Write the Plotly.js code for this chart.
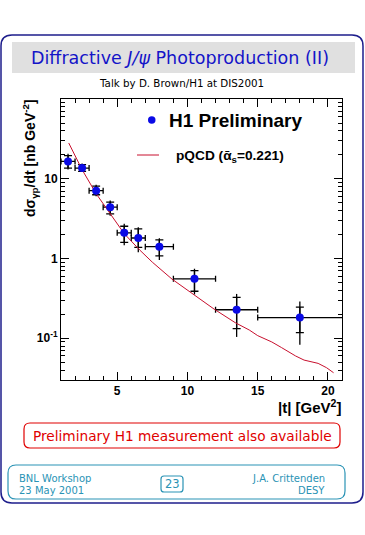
<!DOCTYPE html>
<html>
<head>
<meta charset="utf-8">
<script src="https://cdn.plot.ly/plotly-3.0.1.min.js"></script>
<style>html,body{margin:0;padding:0;background:#fff;}#chart{width:365px;height:535px;}</style>
</head>
<body>
<div id="chart"></div>
<script>
// ---- data ----
var tCenters   = [1.5, 2.5, 3.5, 4.5, 5.5, 6.5, 8, 10.5, 13.5, 18];
var tBinMinus  = [0.5, 0.5, 0.5, 0.5, 0.5, 0.5, 1, 1.5, 1.5, 3];
var tBinPlus   = [0.5, 0.5, 0.5, 0.5, 0.5, 0.5, 1, 1.5, 1.5, 3.5];
var dsigdt     = [16.5, 13.6, 7.1, 4.4, 2.1, 1.81, 1.41, 0.557, 0.228, 0.182];
var statPlus   = [3.0, 1.4, 1.0, 0.69, 0.44, 0.55, 0.30, 0.15, 0.098, 0.064];
var statMinus  = [2.9, 1.2, 0.8, 0.77, 0.51, 0.43, 0.33, 0.168, 0.096, 0.064];
var totPlus    = [4.1, 1.9, 1.3, 0.93, 0.62, 0.66, 0.38, 0.188, 0.132, 0.108];
var totMinus   = [3.4, 1.4, 1.05, 0.96, 0.63, 0.61, 0.45, 0.203, 0.124, 0.099];

var tCurve     = [1.55, 2.5, 3.5, 4.5, 5.5, 6.6, 7.5, 8.9, 10.5, 11.9, 13.4, 14.4, 15.0, 16.0, 16.7, 17.7, 18.3, 19.3, 19.9, 20.4];
var pqcdCurve  = [28.1, 13.0, 6.5, 3.65, 2.05, 1.28, 0.9, 0.552, 0.348, 0.232, 0.157, 0.127, 0.108, 0.090, 0.0764, 0.060, 0.0533, 0.0485, 0.0428, 0.037];

var xTickVals  = [5, 10, 15, 20];
var xTickText  = ['5', '10', '15', '20'];
var yTickVals  = [0.1, 1, 10];
var yTickText  = ['10<sup>-1</sup>', '1', '10'];

// ---- geometry helpers (pixel -> paper) ----
var L = 61, R = 342, T = 99, B = 380, W = 365, H = 535;
function px(x) { return (x - L) / (R - L); }
function py(y) { return (B - y) / (B - T); }
function rrect(x0, y0, x1, y1, r) {
  function p(x, y) { return px(x).toFixed(5) + ',' + py(y).toFixed(5); }
  return 'M' + p(x0 + r, y0) + ' L' + p(x1 - r, y0) + ' Q' + p(x1, y0) + ' ' + p(x1, y0 + r) +
         ' L' + p(x1, y1 - r) + ' Q' + p(x1, y1) + ' ' + p(x1 - r, y1) +
         ' L' + p(x0 + r, y1) + ' Q' + p(x0, y1) + ' ' + p(x0, y1 - r) +
         ' L' + p(x0, y0 + r) + ' Q' + p(x0, y0) + ' ' + p(x0 + r, y0) + ' Z';
}

var yMinor = [];
for (var e = -2; e <= 1; e++) {
  for (var m = 2; m <= 9; m++) {
    var v = m * Math.pow(10, e);
    if (v >= 0.03 && v <= 100) yMinor.push(v);
  }
}

var traces = [
  { // total errors
    x: tCenters, y: dsigdt, type: 'scatter', mode: 'markers',
    marker: { size: 1, color: 'rgba(0,0,0,0)' },
    error_y: { type: 'data', symmetric: false, array: totPlus, arrayminus: totMinus, color: '#000', thickness: 1.3, width: 0 },
    error_x: { type: 'data', symmetric: false, array: tBinPlus, arrayminus: tBinMinus, color: '#000', thickness: 1.3, width: 3 },
    showlegend: false, hoverinfo: 'skip'
  },
  { // stat errors (ticks)
    x: tCenters, y: dsigdt, type: 'scatter', mode: 'markers',
    marker: { size: 1, color: 'rgba(0,0,0,0)' },
    error_y: { type: 'data', symmetric: false, array: statPlus, arrayminus: statMinus, color: '#000', thickness: 1.3, width: 4 },
    showlegend: false, hoverinfo: 'skip'
  },
  { // pQCD
    x: tCurve, y: pqcdCurve, type: 'scatter', mode: 'lines',
    line: { color: '#c8102e', width: 1 },
    showlegend: false
  },
  { // H1 points
    x: tCenters, y: dsigdt, type: 'scatter', mode: 'markers',
    marker: { size: 8, color: '#0a0ae6' },
    showlegend: false
  }
];

var blue = '#1414c8', teal = '#2a93b5', red = '#e00000';
var shapes = [
  { type: 'path', xref: 'paper', yref: 'paper', path: rrect(12, 42, 355, 73, 0), fillcolor: '#e0e0e0', line: { width: 0 }, layer: 'below' },
  { type: 'path', xref: 'paper', yref: 'paper', path: rrect(1, 35, 363, 503, 11), line: { color: '#1e1e8c', width: 1.5 } },
  { type: 'path', xref: 'paper', yref: 'paper', path: rrect(24, 423, 340, 448, 6), line: { color: red, width: 1.2 } },
  { type: 'path', xref: 'paper', yref: 'paper', path: rrect(8, 465, 345, 499, 8), line: { color: teal, width: 1.2 } },
  { type: 'path', xref: 'paper', yref: 'paper', path: rrect(161, 476, 183, 492, 3), line: { color: teal, width: 1.2 } },
  // legend symbols
  { type: 'circle', xref: 'paper', yref: 'paper', x0: px(148), x1: px(155.5), y0: py(116.2), y1: py(123.7), fillcolor: '#0a0ae6', line: { width: 0 } },
  { type: 'line', xref: 'paper', yref: 'paper', x0: px(137), x1: px(159), y0: py(155), y1: py(155), line: { color: '#c8102e', width: 1 } }
];

function ann(text, x, y, opts) {
  var a = { text: text, x: px(x), y: py(y), xref: 'paper', yref: 'paper', showarrow: false,
            xanchor: 'center', yanchor: 'middle', font: { family: 'Liberation Sans, Arial, sans-serif', size: 12, color: '#000' } };
  for (var k in opts) a[k] = opts[k];
  return a;
}

var annotations = [
  ann('Diffractive <i>J/ψ</i> Photoproduction (II)', 180, 58, { font: { family: 'DejaVu Sans, sans-serif', size: 17.5, color: blue } }),
  ann('Talk by D. Brown/H1 at DIS2001', 181, 83, { font: { family: 'DejaVu Sans, sans-serif', size: 10.3, color: '#000' } }),
  ann('H1 Preliminary', 167, 120, { xanchor: 'left', font: { family: 'Liberation Sans, Arial, sans-serif', size: 19, color: '#000', weight: 'bold' } }),
  ann('pQCD (ᾱ<sub>s</sub>=0.221)', 174, 156, { xanchor: 'left', font: { family: 'Liberation Sans, Arial, sans-serif', size: 13.7, color: '#000', weight: 'bold' } }),
  ann('dσ<sub>γp</sub>/dt [nb GeV<sup>-2</sup>]', 30, 158, { textangle: -90, font: { family: 'Liberation Sans, Arial, sans-serif', size: 14, color: '#000', weight: 'bold' } }),
  ann('|t| [GeV<sup>2</sup>]', 343, 406, { xanchor: 'right', font: { family: 'Liberation Sans, Arial, sans-serif', size: 15, color: '#000', weight: 'bold' } }),
  ann('Preliminary H1 measurement also available', 182, 436, { font: { family: 'DejaVu Sans, sans-serif', size: 13.7, color: red } }),
  ann('BNL Workshop', 17, 478, { xanchor: 'left', font: { family: 'DejaVu Sans, sans-serif', size: 10, color: teal } }),
  ann('23 May 2001', 17, 490.5, { xanchor: 'left', font: { family: 'DejaVu Sans, sans-serif', size: 10, color: teal } }),
  ann('J.A. Crittenden', 327, 478, { xanchor: 'right', font: { family: 'DejaVu Sans, sans-serif', size: 10, color: teal } }),
  ann('DESY', 327, 490.5, { xanchor: 'right', font: { family: 'DejaVu Sans, sans-serif', size: 10, color: teal } }),
  ann('23', 172, 484, { font: { family: 'DejaVu Sans, sans-serif', size: 11.5, color: teal } })
];

var layout = {
  width: W, height: H,
  margin: { l: L, r: W - R, t: T, b: H - B, pad: 0 },
  paper_bgcolor: '#fff', plot_bgcolor: '#fff',
  showlegend: false,
  xaxis: {
    range: [1, 21], tickmode: 'array', tickvals: xTickVals, ticktext: xTickText,
    ticks: 'inside', ticklen: 8, tickwidth: 1, tickcolor: '#000',
    minor: { dtick: 1, tick0: 0, ticks: 'inside', ticklen: 4, tickcolor: '#000', showgrid: false },
    showline: true, linecolor: '#000', linewidth: 1, mirror: 'allticks',
    showgrid: false, zeroline: false,
    tickfont: { family: 'Liberation Sans, Arial, sans-serif', size: 12, weight: 'bold', color: '#000' }
  },
  yaxis: {
    type: 'log', range: [Math.log10(0.03), 2], tickmode: 'array', tickvals: yTickVals, ticktext: yTickText,
    ticks: 'inside', ticklen: 8, tickwidth: 1, tickcolor: '#000',
    minor: { tickmode: 'array', tickvals: yMinor, ticks: 'inside', ticklen: 4, tickcolor: '#000', showgrid: false },
    showline: true, linecolor: '#000', linewidth: 1, mirror: 'allticks',
    showgrid: false, zeroline: false,
    tickfont: { family: 'Liberation Sans, Arial, sans-serif', size: 12, weight: 'bold', color: '#000' }
  },
  shapes: shapes,
  annotations: annotations
};

Plotly.newPlot('chart', traces, layout, { staticPlot: true, displayModeBar: false });
</script>
</body>
</html>
